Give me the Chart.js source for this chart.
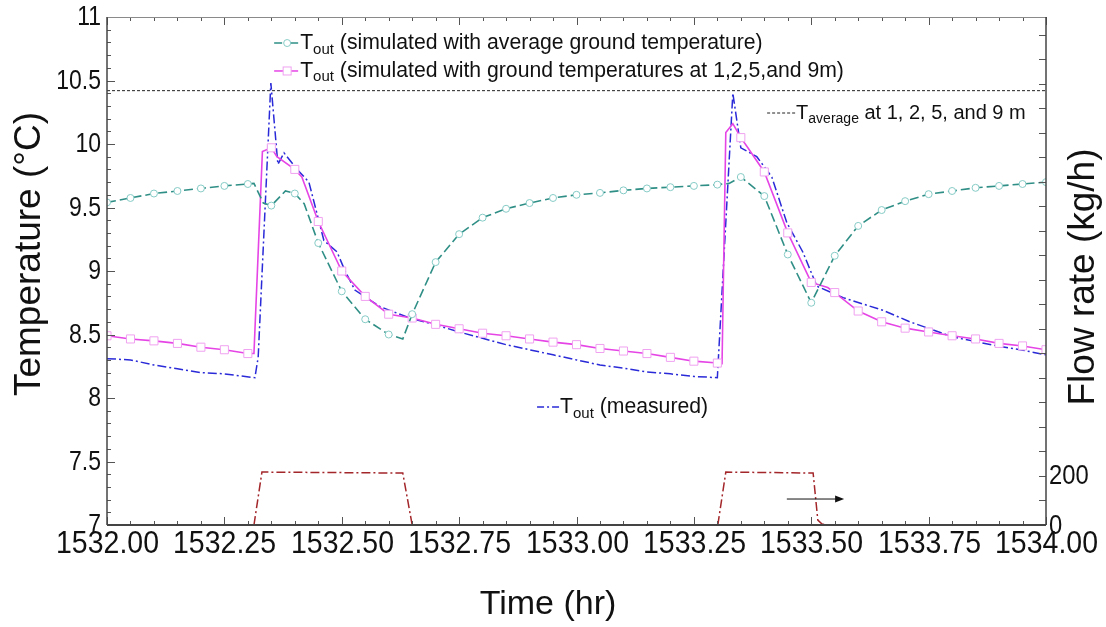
<!DOCTYPE html>
<html><head><meta charset="utf-8">
<script src="https://cdn.jsdelivr.net/npm/chart.js@4.4.0/dist/chart.umd.min.js"></script>
<style>html,body{margin:0;padding:0;background:#fff;}#wrap{width:1106px;height:627px;}</style>
</head><body><div id="wrap"><canvas id="c" width="1106" height="627"></canvas></div>
<script>
// ---- data ----
const simAvgTime = [1532.00,1532.05,1532.10,1532.15,1532.20,1532.25,1532.30,1532.313,1532.333,1532.35,1532.38,1532.40,1532.42,1532.45,1532.50,1532.55,1532.60,1532.63,1532.65,1532.70,1532.75,1532.80,1532.85,1532.90,1532.95,1533.00,1533.05,1533.10,1533.15,1533.20,1533.25,1533.30,1533.325,1533.35,1533.40,1533.45,1533.50,1533.55,1533.60,1533.65,1533.70,1533.75,1533.80,1533.85,1533.90,1533.95,1534.00];
const simAvgTemp = [9.54,9.575,9.61,9.63,9.65,9.67,9.685,9.69,9.535,9.515,9.63,9.61,9.53,9.22,8.84,8.62,8.50,8.465,8.66,9.07,9.29,9.42,9.49,9.535,9.575,9.60,9.615,9.635,9.65,9.66,9.67,9.68,9.69,9.74,9.59,9.13,8.75,9.12,9.355,9.48,9.55,9.605,9.63,9.655,9.67,9.685,9.70];

const simGroundTime = [1532.00,1532.05,1532.10,1532.15,1532.20,1532.25,1532.30,1532.313,1532.331,1532.35,1532.362,1532.40,1532.415,1532.45,1532.50,1532.55,1532.60,1532.65,1532.70,1532.75,1532.80,1532.85,1532.90,1532.95,1533.00,1533.05,1533.10,1533.15,1533.20,1533.25,1533.30,1533.31,1533.318,1533.333,1533.35,1533.365,1533.40,1533.45,1533.50,1533.535,1533.55,1533.60,1533.65,1533.70,1533.75,1533.80,1533.85,1533.90,1533.95,1534.00];
const simGroundTemp = [8.49,8.465,8.45,8.43,8.40,8.38,8.35,8.35,9.94,9.97,9.90,9.80,9.74,9.39,9.00,8.80,8.66,8.63,8.58,8.545,8.51,8.49,8.465,8.44,8.42,8.39,8.37,8.35,8.32,8.29,8.275,8.27,10.09,10.16,10.05,9.97,9.78,9.30,8.91,8.87,8.83,8.685,8.60,8.55,8.52,8.49,8.465,8.43,8.41,8.38];

const measuredTime = [1532.00,1532.05,1532.10,1532.15,1532.20,1532.25,1532.315,1532.322,1532.349,1532.364,1532.377,1532.405,1532.43,1532.462,1532.49,1532.507,1532.528,1532.581,1532.645,1532.70,1532.75,1532.80,1532.85,1532.90,1532.95,1533.00,1533.05,1533.10,1533.15,1533.20,1533.25,1533.30,1533.333,1533.35,1533.384,1533.416,1533.448,1533.482,1533.512,1533.568,1533.653,1533.71,1533.802,1533.896,1533.945,1534.00];
const measuredTemp = [8.31,8.30,8.26,8.23,8.20,8.19,8.16,8.32,10.48,9.84,9.93,9.80,9.70,9.24,9.15,9.00,8.85,8.72,8.63,8.575,8.52,8.47,8.42,8.38,8.34,8.30,8.26,8.235,8.205,8.19,8.17,8.16,10.40,9.97,9.90,9.74,9.38,9.15,8.88,8.79,8.69,8.60,8.48,8.41,8.38,8.34];

const avgGroundTime = [1532.00,1534.00];
const avgGroundTemp = [10.42,10.42];

const flowTime = [1532.313,1532.330,1532.630,1532.650,1533.000,1533.301,1533.318,1533.504,1533.514,1533.523,1533.531];
const flowRate = [0,216,212,0,null,0,216,212,20,4,0];

const arrowTime = [1533.448,1533.570];
const arrowFlow = [106,106];

const xTickLabels = ['1532.00','1532.25','1532.50','1532.75','1533.00','1533.25','1533.50','1533.75','1534.00'];
const yTickLabels = ['7','7.5','8','8.5','9','9.5','10','10.5','11'];
const y2TickLabels = ['0','200'];

// ---- helpers ----
const pts = (xs, ys) => xs.map((t, i) => ({x: t, y: ys[i]}));
const isMult = (v, s) => Math.abs(v / s - Math.round(v / s)) < 1e-6;
const markerAt = r => ctx => (ctx.raw && isMult(ctx.raw.x, 0.05)) ? r : 0;
const FONT = "'Liberation Sans',Arial,sans-serif";

const layoutText = {
  leg1: {t: 1532.356, v: 10.795},
  leg2: {t: 1532.356, v: 10.575},
  leg3: {t: 1533.406, v: 10.244},
  leg4: {t: 1532.916, v: 7.929}
};

function drawSub(ctx, x, y, parts, size) {
  ctx.textBaseline = 'middle';
  ctx.textAlign = 'left';
  for (const p of parts) {
    const sub = p[1];
    ctx.font = (sub ? Math.round(size * 0.72) : size) + 'px ' + FONT;
    ctx.fillText(p[0], x, sub ? y + size * 0.3 : y);
    x += ctx.measureText(p[0]).width;
  }
}
function narrowText(ctx, text, x, y, size, sx, align) {
  ctx.save();
  ctx.font = size + 'px ' + FONT;
  ctx.textAlign = align; ctx.textBaseline = 'middle';
  ctx.translate(x, y); ctx.scale(sx, 1);
  ctx.fillText(text, 0, 0);
  ctx.restore();
}

const overlay = {
  id: 'overlay',
  afterDraw(chart) {
    const {ctx, chartArea: a, scales: {x, y, y2}} = chart;
    ctx.save();
    const seg = (x1, y1, x2, y2_) => { ctx.beginPath(); ctx.moveTo(x1, y1); ctx.lineTo(x2, y2_); ctx.stroke(); };
    // inward ticks + tick labels
    ctx.strokeStyle = '#555'; ctx.lineWidth = 1; ctx.fillStyle = '#111';
    x.ticks.forEach(tk => {
      const px = Math.round(x.getPixelForValue(tk.value)) + 0.5;
      const major = isMult(tk.value - 1532, 0.25);
      const len = major ? 8 : 4;
      seg(px, a.bottom, px, a.bottom - len);
      seg(px, a.top, px, a.top + len);
      if (major) narrowText(ctx, xTickLabels[Math.round((tk.value - 1532) / 0.25)], px, a.bottom + 19, 32, 0.89, 'center');
    });
    y.ticks.forEach(tk => {
      const py = Math.round(y.getPixelForValue(tk.value)) + 0.5;
      const major = isMult(tk.value - 7, 0.5);
      seg(a.left, py, a.left + (major ? 8 : 4), py);
      if (major) narrowText(ctx, yTickLabels[Math.round((tk.value - 7) / 0.5)], a.left - 6, py, 28, 0.82, 'right');
    });
    y2.ticks.forEach(tk => {
      if (tk.value > 2000) return;
      const py = Math.round(y2.getPixelForValue(tk.value)) + 0.5;
      seg(a.right, py, a.right - 7, py);
      if (tk.value === 0) narrowText(ctx, y2TickLabels[0], a.right + 3, py + 1, 28, 0.85, 'left');
      if (tk.value === 200) narrowText(ctx, y2TickLabels[1], a.right + 3, py, 28, 0.85, 'left');
    });
    // frame
    ctx.strokeStyle = '#8a8a8a'; ctx.lineWidth = 1;
    seg(a.left, a.top + 0.5, a.right, a.top + 0.5);
    ctx.strokeStyle = '#444'; ctx.lineWidth = 1.5;
    seg(a.left, a.top, a.left, a.bottom);
    seg(a.right, a.top, a.right, a.bottom);
    ctx.lineWidth = 2;
    seg(a.left, a.bottom, a.right, a.bottom);

    // arrow
    const ax1 = x.getPixelForValue(arrowTime[0]), ax2 = x.getPixelForValue(arrowTime[1]);
    const ay = y2.getPixelForValue(arrowFlow[0]);
    ctx.strokeStyle = '#111'; ctx.fillStyle = '#111'; ctx.lineWidth = 1;
    seg(ax1, ay, ax2 - 6, ay);
    ctx.beginPath(); ctx.moveTo(ax2, ay); ctx.lineTo(ax2 - 9, ay - 3.5); ctx.lineTo(ax2 - 9, ay + 3.5); ctx.closePath(); ctx.fill();

    // in-plot legends
    const L = k => ({px: x.getPixelForValue(layoutText[k].t), py: y.getPixelForValue(layoutText[k].v)});
    const FS = 21.2;
    let p = L('leg1');
    ctx.strokeStyle = '#2f8f86'; ctx.lineWidth = 1.5; ctx.setLineDash([8, 3, 2, 3]);
    seg(p.px, p.py, p.px + 24, p.py); ctx.setLineDash([]);
    ctx.fillStyle = '#fff'; ctx.strokeStyle = '#86cbc6'; ctx.lineWidth = 1;
    ctx.beginPath(); ctx.arc(p.px + 13, p.py, 3.5, 0, Math.PI * 2); ctx.fill(); ctx.stroke();
    ctx.fillStyle = '#111';
    drawSub(ctx, p.px + 26, p.py, [['T', 0], ['out', 1], [' (simulated with average ground temperature)', 0]], FS);

    p = L('leg2');
    ctx.strokeStyle = '#e645e6'; ctx.lineWidth = 1.5;
    seg(p.px, p.py, p.px + 24, p.py);
    ctx.fillStyle = '#fff'; ctx.strokeStyle = '#f0a2f0'; ctx.lineWidth = 1;
    ctx.fillRect(p.px + 9, p.py - 4, 8, 8); ctx.strokeRect(p.px + 9, p.py - 4, 8, 8);
    ctx.fillStyle = '#111';
    drawSub(ctx, p.px + 26, p.py, [['T', 0], ['out', 1], [' (simulated with ground temperatures at 1,2,5,and 9m)', 0]], FS);

    p = L('leg3');
    ctx.strokeStyle = '#222'; ctx.lineWidth = 1; ctx.setLineDash([3, 2]);
    seg(p.px, p.py, p.px + 28, p.py); ctx.setLineDash([]);
    drawSub(ctx, p.px + 29, p.py, [['T', 0], ['average', 1], [' at 1, 2, 5, and 9 m', 0]], 20);

    p = L('leg4');
    ctx.strokeStyle = '#2a2ad8'; ctx.lineWidth = 1.5; ctx.setLineDash([7, 3, 2, 3]);
    seg(p.px, p.py, p.px + 22, p.py); ctx.setLineDash([]);
    drawSub(ctx, p.px + 23, p.py, [['T', 0], ['out', 1], [' (measured)', 0]], FS);

    // axis titles
    ctx.fillStyle = '#111'; ctx.textAlign = 'center'; ctx.textBaseline = 'middle';
    ctx.font = '37px ' + FONT;
    ctx.save(); ctx.translate(30, 254); ctx.rotate(-Math.PI / 2); ctx.fillText('Temperature (°C)', 0, 0); ctx.restore();
    ctx.save(); ctx.translate(1084, 277); ctx.rotate(-Math.PI / 2); ctx.fillText('Flow rate (kg/h)', 0, 0); ctx.restore();
    ctx.font = '34px ' + FONT;
    ctx.fillText('Time (hr)', 548, 605);
    ctx.restore();
  }
};

const noGrid = {display: false, drawTicks: false};

new Chart(document.getElementById('c'), {
  type: 'line',
  data: {datasets: [
    {data: pts(simAvgTime, simAvgTemp), yAxisID: 'y', borderColor: '#2f8f86', borderWidth: 1.6, borderDash: [9, 4],
     pointRadius: markerAt(3.5), pointStyle: 'circle', pointBackgroundColor: '#fff', pointBorderColor: '#86cbc6', pointBorderWidth: 1, tension: 0},
    {data: pts(simGroundTime, simGroundTemp), yAxisID: 'y', borderColor: '#e645e6', borderWidth: 1.6,
     pointRadius: markerAt(5.7), pointStyle: 'rect', pointBackgroundColor: '#fff', pointBorderColor: '#f0a2f0', pointBorderWidth: 1, tension: 0},
    {data: pts(measuredTime, measuredTemp), yAxisID: 'y', borderColor: '#2a2ad8', borderWidth: 1.5, borderDash: [9, 3, 2, 3], pointRadius: 0, tension: 0},
    {data: pts(avgGroundTime, avgGroundTemp), yAxisID: 'y', borderColor: '#222', borderWidth: 1, borderDash: [3, 2], pointRadius: 0},
    {data: pts(flowTime, flowRate), yAxisID: 'y2', borderColor: '#a3262a', borderWidth: 1.5, borderDash: [9, 3, 2, 3], pointRadius: 0, spanGaps: false, tension: 0}
  ]},
  options: {
    responsive: false, animation: false, events: [],
    layout: {padding: {top: 17, left: 0, right: 0, bottom: 0}},
    plugins: {legend: {display: false}, tooltip: {enabled: false}},
    scales: {
      x: {type: 'linear', min: 1532, max: 1534, grid: noGrid, border: {display: false},
          afterFit: s => { s.height = 102; },
          ticks: {display: false, stepSize: 0.05, autoSkip: false}},
      y: {type: 'linear', position: 'left', min: 7, max: 11, grid: noGrid, border: {display: false},
          afterFit: s => { s.width = 107; },
          ticks: {display: false, stepSize: 0.1, autoSkip: false}},
      y2: {type: 'linear', position: 'right', min: 0, max: 2073, grid: noGrid, border: {display: false},
           afterFit: s => { s.width = 60; },
           ticks: {display: false, stepSize: 100, autoSkip: false}}
    }
  },
  plugins: [overlay]
});
</script></body></html>
